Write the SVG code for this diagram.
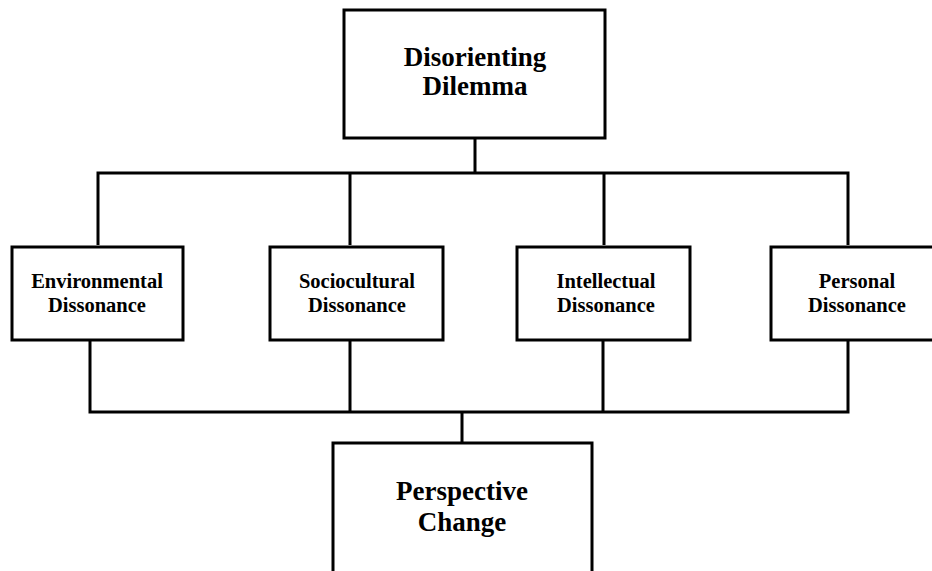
<svg xmlns="http://www.w3.org/2000/svg" width="932" height="571" viewBox="0 0 932 571">
<style>
.n{fill:#fff;stroke:#000;stroke-width:3}
.c{fill:none;stroke:#000;stroke-width:3}
text{font-family:"Liberation Serif","Times New Roman",serif;font-weight:bold;text-anchor:middle;fill:#000}
.big{font-size:27px}
.sm{font-size:20.5px}
</style>
<rect width="932" height="571" fill="#fff"/>
<g id="connectors">
<path class="c" d="M475 138V173M98 245V173H848V245M350 173V245M604 173V245"/>
<path class="c" d="M90 340V412H848V340M350 340V412M603 340V412M462 412V443"/>
</g>
<g id="disorienting"><rect class="n" x="344" y="10" width="261" height="128"/><text class="big" x="475" y="66">Disorienting</text><text class="big" x="475" y="95">Dilemma</text></g>
<g id="environmental"><rect class="n" x="12" y="247" width="171" height="93"/><text class="sm" x="97" y="288">Environmental</text><text class="sm" x="97" y="312">Dissonance</text></g>
<g id="sociocultural"><rect class="n" x="270" y="247" width="173" height="93"/><text class="sm" x="357" y="288">Sociocultural</text><text class="sm" x="357" y="312">Dissonance</text></g>
<g id="intellectual"><rect class="n" x="517" y="247" width="173" height="93"/><text class="sm" x="606" y="288">Intellectual</text><text class="sm" x="606" y="312">Dissonance</text></g>
<g id="personal"><rect class="n" x="771" y="247" width="172" height="93"/><text class="sm" x="857" y="288">Personal</text><text class="sm" x="857" y="312">Dissonance</text></g>
<g id="perspective"><rect class="n" x="333" y="443" width="259" height="140"/><text class="big" x="462" y="500">Perspective</text><text class="big" x="462" y="531">Change</text></g>
</svg>
